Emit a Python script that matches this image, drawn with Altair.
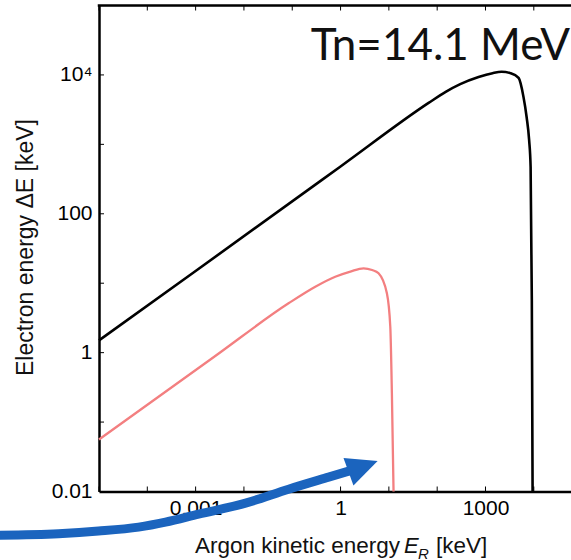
import altair as alt
import pandas as pd

# ---- data ----
black_E = [1e-5, 1e-3, 1.0, 66.4, 150, 300, 719, 1400, 2154, 3300, 4844, 6100, 7100, 8000, 8590, 9100, 9440]
black_dE = [1.5, 15, 480, 3950, 5710, 7370, 9330, 10600, 11100, 10600, 9060, 4870, 2480, 1157, 472, 5.7, 0.01]

pink_E = [1e-5, 2.55e-3, 0.0838, 0.3, 0.776, 1.6, 2.99, 4.5, 6.12, 9.1, 10.7, 11.55, 12.5]
pink_dE = [0.056, 0.894, 5.13, 8.9, 12.4, 14.7, 16.4, 15.5, 13.9, 7.15, 2.36, 0.26, 0.01]

arrow_E = [8.3e-8, 1.45e-6, 9.8e-6, 6.6e-5, 2.38e-4, 1.15e-3, 1.08e-2, 8.4e-2, 0.565, 1.61]
arrow_dE = [2.35e-3, 2.47e-3, 2.69e-3, 3.07e-3, 3.62e-3, 4.72e-3, 6.8e-3, 1.08e-2, 1.61e-2, 2.0e-2]
arrow_head_E = [2.92]
arrow_head_dE = [0.023]

x_domain = [1e-5, 10 ** 4.77]
y_domain = [0.01, 1e5]
x_decades = [1e-5, 1e-4, 1e-3, 1e-2, 1e-1, 1, 10, 100, 1000, 1e4]
y_decades = [0.01, 0.1, 1, 10, 100, 1000, 1e4, 1e5]
x_label_vals = [0.001, 1, 1000]
y_label_vals = [0.01, 1, 100, 10000]

W, H = 472, 486
FONT = "Liberation Sans"

xs = alt.Scale(type="log", domain=x_domain, nice=False)
ys = alt.Scale(type="log", domain=y_domain, nice=False)

black_df = pd.DataFrame({"E": black_E, "dE": black_dE})
pink_df = pd.DataFrame({"E": pink_E, "dE": pink_dE})
arrow_df = pd.DataFrame({"E": arrow_E, "dE": arrow_dE})
head_df = pd.DataFrame({"E": arrow_head_E, "dE": arrow_head_dE})
xt_df = pd.DataFrame({"E": x_decades})
yt_df = pd.DataFrame({"dE": y_decades})

x_axis_bottom = alt.Axis(
    orient="bottom", values=x_label_vals, format="~g", ticks=False, grid=False, title=None,
    domainColor="black", domainWidth=2.5, labelFont=FONT, labelFontSize=21,
    labelColor="black", labelPadding=6, labelFlush=False,
)
y_axis_left = alt.Axis(
    orient="left", values=y_label_vals, format="~g", ticks=False, grid=False, title=None,
    domainColor="black", domainWidth=2.5, labelFont=FONT, labelFontSize=21,
    labelColor="black", labelPadding=7, labelFlush=False,
    labelExpr="datum.value > 9999 ? '10⁴' : datum.label",
)

black = alt.Chart(black_df).mark_line(color="black", strokeWidth=2.6, interpolate="monotone").encode(
    x=alt.X("E:Q", scale=xs, axis=x_axis_bottom),
    y=alt.Y("dE:Q", scale=ys, axis=y_axis_left),
)

pink = alt.Chart(pink_df).mark_line(color="#F37F80", strokeWidth=2.3, interpolate="monotone").encode(
    x=alt.X("E:Q", scale=xs),
    y=alt.Y("dE:Q", scale=ys),
)

top_line = alt.Chart(pd.DataFrame({"k": [0]})).mark_rule(color="black", strokeWidth=2.5).encode(
    x=alt.value(-1.25), x2=alt.value(W + 5), y=alt.value(0),
)
top_ticks = alt.Chart(xt_df).mark_rule(color="black", strokeWidth=1).encode(
    x=alt.X("E:Q", scale=xs), y=alt.value(0), y2=alt.value(5),
)
bottom_ticks = alt.Chart(xt_df).mark_rule(color="black", strokeWidth=1).encode(
    x=alt.X("E:Q", scale=xs), y=alt.value(H - 5), y2=alt.value(H),
)
left_ticks = alt.Chart(yt_df).mark_rule(color="black", strokeWidth=1).encode(
    y=alt.Y("dE:Q", scale=ys), x=alt.value(0), x2=alt.value(5),
)

title = alt.Chart(pd.DataFrame({"t": ["Tn=14.1 MeV"]})).mark_text(
    font="Lato", fontSize=44, align="right", baseline="alphabetic", color="#111111"
).encode(text="t:N", x=alt.value(471), y=alt.value(54.5))

ytitle = alt.Chart(pd.DataFrame({"t": ["Electron energy ΔE [keV]"]})).mark_text(
    font=FONT, fontSize=23, align="center", baseline="alphabetic", angle=270, color="#111111"
).encode(text="t:N", x=alt.value(-66), y=alt.value(242))

xt1 = alt.Chart(pd.DataFrame({"t": ["Argon kinetic energy"]})).mark_text(
    font=FONT, fontSize=22.5, align="left", baseline="alphabetic", color="#111111"
).encode(text="t:N", x=alt.value(96), y=alt.value(547.5))
xt2 = alt.Chart(pd.DataFrame({"t": ["E"]})).mark_text(
    font=FONT, fontSize=22, fontStyle="italic", align="left", baseline="alphabetic", color="#111111"
).encode(text="t:N", x=alt.value(305), y=alt.value(547.5))
xt3 = alt.Chart(pd.DataFrame({"t": ["R"]})).mark_text(
    font=FONT, fontSize=15, fontStyle="italic", align="left", baseline="alphabetic", color="#111111"
).encode(text="t:N", x=alt.value(319), y=alt.value(553))
xt4 = alt.Chart(pd.DataFrame({"t": ["[keV]"]})).mark_text(
    font=FONT, fontSize=22.5, align="left", baseline="alphabetic", color="#111111"
).encode(text="t:N", x=alt.value(337), y=alt.value(547.5))

arrow = alt.Chart(arrow_df).mark_line(color="#1B64BE", strokeWidth=9, interpolate="monotone",
                                      strokeCap="butt", clip=False).encode(
    x=alt.X("E:Q", scale=xs), y=alt.Y("dE:Q", scale=ys),
)
head = alt.Chart(head_df).mark_point(
    shape="M-1,-0.94L1,0L-1,0.94Z", filled=True, size=961, angle=340,
    color="#1B64BE", opacity=1, strokeWidth=0, clip=False,
).encode(x=alt.X("E:Q", scale=xs), y=alt.Y("dE:Q", scale=ys))

chart = alt.layer(
    black, pink, top_line, top_ticks, bottom_ticks, left_ticks, title, ytitle,
    xt1, xt2, xt3, xt4, arrow, head
).properties(
    width=W, height=H,
    autosize=alt.AutoSizeParams(type="none"),
    padding={"left": 99, "top": 5.5, "right": 0, "bottom": 68.5},
).configure_view(stroke=None).configure(background="white")

chart.save("out.html", embed_options={"renderer": "svg", "actions": False})
